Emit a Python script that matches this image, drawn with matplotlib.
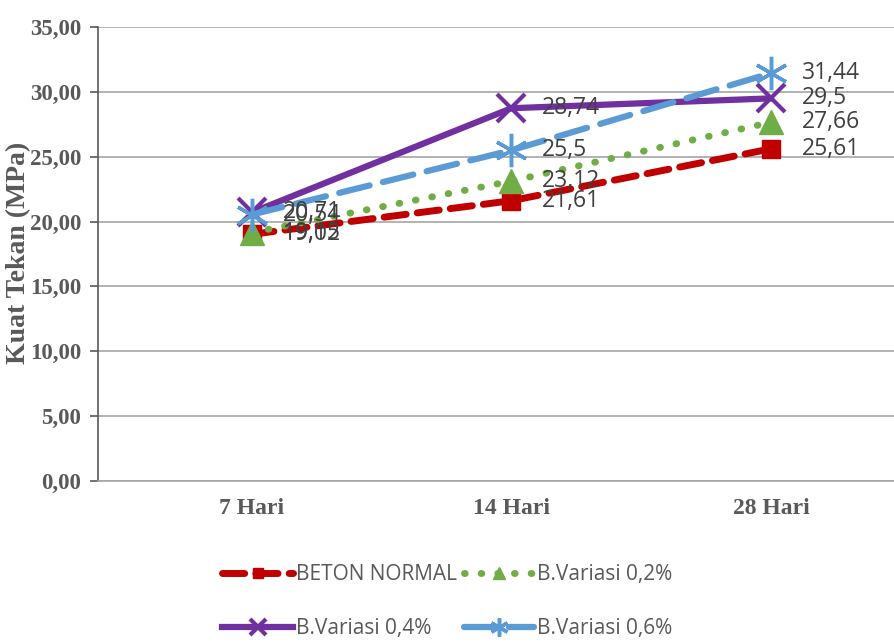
import matplotlib
matplotlib.use("Agg")
from matplotlib import pyplot as plt
import numpy as np

# umur beton dan kuat tekan rata-rata (MPa)
hari = ["7 Hari", "14 Hari", "28 Hari"]
beton_normal = [19.02, 21.61, 25.61]
variasi_02 = [19.15, 23.12, 27.66]
variasi_04 = [20.71, 28.74, 29.5]
variasi_06 = [20.54, 25.5, 31.44]
nama = ["BETON NORMAL", "B.Variasi 0,2%", "B.Variasi 0,4%", "B.Variasi 0,6%"]

fig = plt.figure(figsize=(8.95, 6.42), dpi=100)
ax = fig.add_axes([0.1095, 0.2508, 0.8905, 0.7071])

x = np.arange(len(hari))
ax.set_xlim(-0.593, 2.478)
ax.set_ylim(0, 35)

ax.yaxis.grid(True, color="#a6a6a6", lw=1.2)
ax.set_axisbelow(True)

l1, = ax.plot(x, beton_normal, color="#c00000", lw=5, dashes=(3.2, 1.6), dash_capstyle="round",
              marker="s", ms=13, mec="#c00000", label=nama[0])
l2, = ax.plot(x, variasi_02, color="#70ad47", lw=5, dashes=(0.1, 2.3), dash_capstyle="round",
              marker="^", ms=17, mec="#70ad47", label=nama[1])
l3, = ax.plot(x, variasi_04, color="#7030a0", lw=4.5, marker="x", ms=20, mew=3,
              mec="#7030a0", label=nama[2])
l4, = ax.plot(x, variasi_06, color="#5b9bd5", lw=4.5, dashes=(5, 2.2), dash_capstyle="round",
              marker=(6, 2, 0), ms=24, mew=2.5, mec="#5b9bd5", label=nama[3])

# label nilai di kanan titik
for seri in [beton_normal, variasi_02, variasi_04, variasi_06]:
    for xi, v in zip(x, seri):
        teks = ("%g" % v).replace(".", ",")
        ax.annotate(teks, (xi, v), xytext=(22, 0), textcoords="offset points",
                    va="center", ha="left", fontsize=16.5, color="#404040",
                    family="Open Sans")

yt = np.arange(0, 36, 5)
ax.set_xticks(x)
ax.set_xticklabels(hari, family="Liberation Serif", fontweight="bold", fontsize=17, color="#595959")
ax.set_yticks(yt)
ax.set_yticklabels([("%.2f" % v).replace(".", ",") for v in yt], family="Liberation Serif",
                   fontweight="bold", fontsize=16.5, color="#595959")
ax.tick_params(axis="x", length=0, pad=12)
ax.tick_params(axis="y", length=6, width=1.2, color="#595959", pad=6, direction="out")

fig.text(0.021, 0.606, "Kuat Tekan (MPa)", rotation=90, ha="center", va="center",
         family="Liberation Serif", fontweight="bold", fontsize=20, color="#595959")

for s in ["top", "right"]:
    ax.spines[s].set_visible(False)
ax.spines["left"].set_color("#595959")
ax.spines["left"].set_linewidth(1.2)
ax.spines["bottom"].set_color("#a6a6a6")
ax.spines["bottom"].set_linewidth(1.2)

fig.legend([l1, l3, l2, l4], [nama[0], nama[2], nama[1], nama[3]], ncol=2,
           loc="center", bbox_to_anchor=(0.5, 0.063), frameon=False,
           prop={"family": "Open Sans", "size": 15}, labelcolor="#595959",
           handlelength=3.4, handletextpad=0.15, columnspacing=0.3,
           labelspacing=1.6, markerscale=0.55, numpoints=1)

plt.savefig("out.png", dpi=100)
